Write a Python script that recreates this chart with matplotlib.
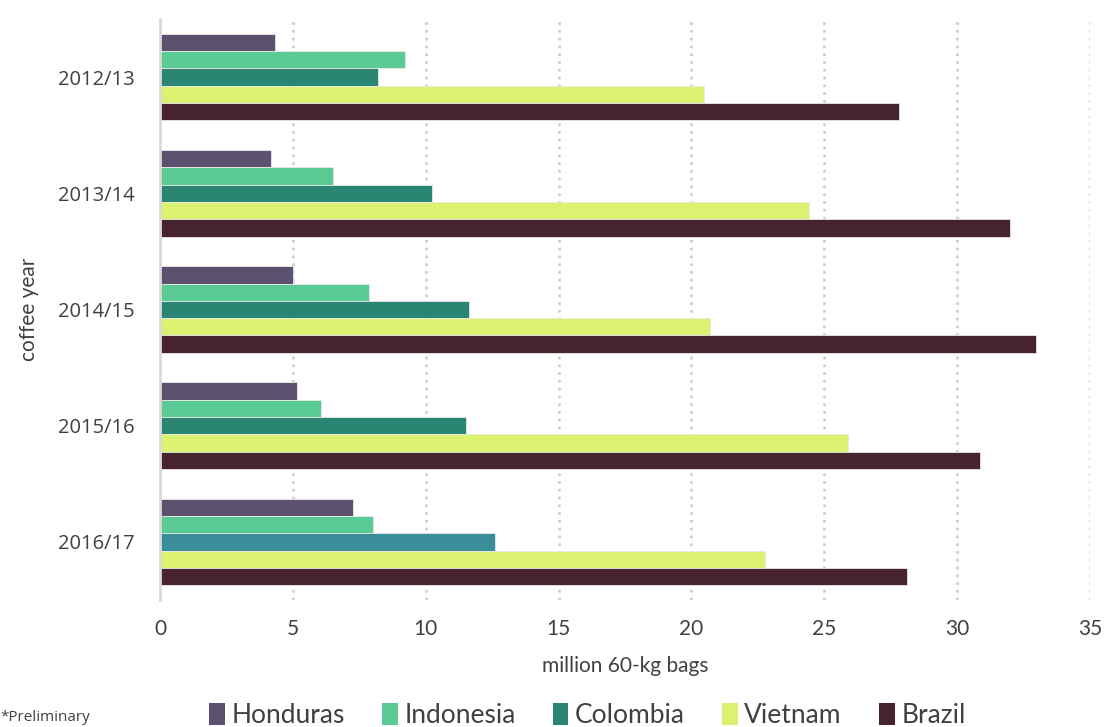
import matplotlib
matplotlib.use("Agg")
import matplotlib.pyplot as plt
from matplotlib.patches import Patch
import numpy as np

years = ["2012/13", "2013/14", "2014/15", "2015/16", "2016/17"]
series_names = ["Honduras", "Indonesia", "Colombia", "Vietnam", "Brazil"]
honduras = [4.33, 4.17, 5.02, 5.15, 7.28]
indonesia = [9.23, 6.50, 7.87, 6.05, 8.02]
colombia = [8.22, 10.24, 11.63, 11.50, 12.59]
vietnam = [20.46, 24.41, 20.71, 25.90, 22.78]
brazil = [27.80, 32.00, 32.98, 30.86, 28.13]

colors = ["#5c526f", "#5acb94", "#2a8673", "#dcf170", "#47232d"]
colombia_last_color = "#3a8e9a"

NARROW = ["Lato", "DejaVu Sans"]

fig = plt.figure(figsize=(11.04, 7.27), dpi=100)
ax = fig.add_axes([0.1449, 0.1747, 0.8424, 0.7992])

series = [honduras, indonesia, colombia, vietnam, brazil]
y = np.arange(len(years))
h = 0.149
for i, (name, vals) in enumerate(zip(series_names, series)):
    cols = [colors[i]] * len(vals)
    if name == "Colombia":
        cols[-1] = colombia_last_color
    ax.barh(y + (i - 2) * h, vals, height=h, color=cols,
            edgecolor="#e8e8e8", linewidth=0.6, zorder=3)

ax.set_xlim(0, 35)
ax.set_ylim(4.5, -0.5)
ax.set_xticks(np.arange(0, 36, 5))
ax.set_yticks(y)
ax.set_yticklabels(years, fontsize=14.5, color="#404040", family="Open Sans")
for lab in ax.get_xticklabels():
    lab.set_family(NARROW)
ax.tick_params(axis="x", labelsize=15, colors="#404040", length=0, pad=14)
ax.tick_params(axis="y", length=0, pad=18)

ax.grid(axis="x", color="#d0d0d0", linestyle=(0, (1.0, 1.8)), linewidth=2.0, zorder=0)
ax.grid(axis="y", visible=False)
for s in ["top", "right", "bottom"]:
    ax.spines[s].set_visible(False)
ax.spines["left"].set_color("#d9d9d9")
ax.spines["left"].set_linewidth(2)
ax.spines["left"].set_zorder(4)

ax.set_xlabel("million 60-kg bags", fontsize=15, color="#404040", family=NARROW, labelpad=12)
ax.set_ylabel("coffee year", fontsize=15, color="#404040", family=NARROW, labelpad=14)

handles = [Patch(facecolor=c, edgecolor="none") for c in colors]
fig.legend(handles, series_names, loc="center", bbox_to_anchor=(0.532, 0.016),
           ncol=5, frameon=False, prop={"family": NARROW, "size": 19},
           handlelength=0.6, handleheight=0.9, handletextpad=0.25, columnspacing=1.4,
           labelcolor="#404040")

fig.text(0.0, 0.003, "*Preliminary", fontsize=11, color="#404040", family="Open Sans",
         ha="left", va="bottom")

fig.savefig("out.png", dpi=100)
